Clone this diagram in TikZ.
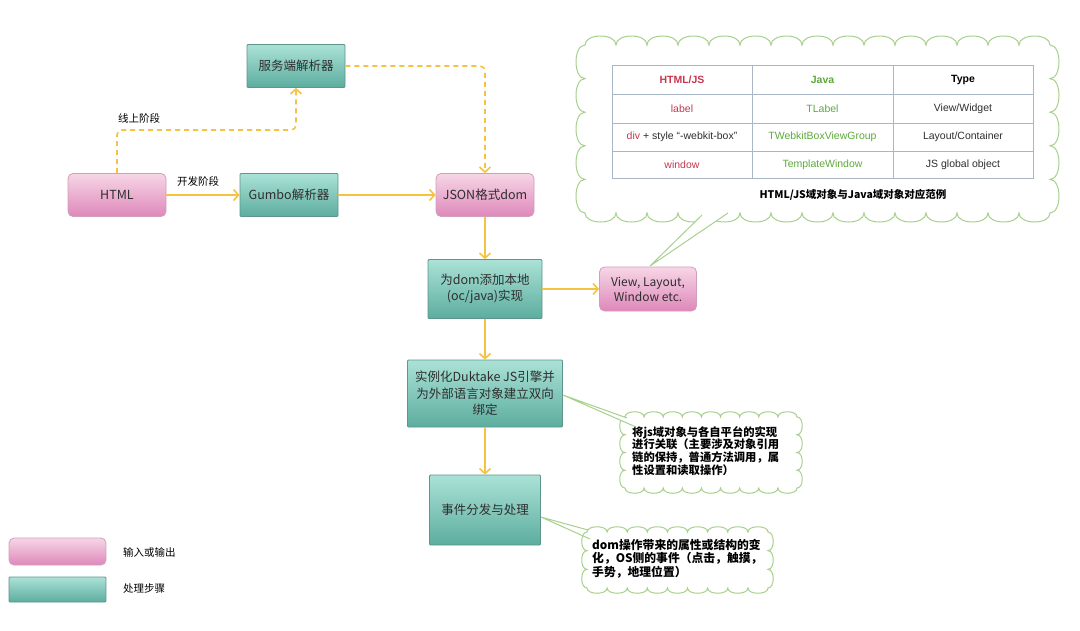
\documentclass[tikz,border=0pt]{standalone}
\usepackage{fontspec}
\setmainfont{Noto Sans CJK SC}
\newfontfamily\tabfont{Liberation Sans}
\usetikzlibrary{arrows.meta}
\definecolor{pinkT}{HTML}{F7D6E6}
\definecolor{pinkB}{HTML}{DE88BA}
\definecolor{pinkD}{HTML}{CFA0BC}
\definecolor{tealT}{HTML}{ABE2D7}
\definecolor{tealB}{HTML}{5CAD9E}
\definecolor{tealD}{HTML}{5E968B}
\definecolor{flowc}{HTML}{F5C242}
\definecolor{cloudc}{HTML}{A8D08D}
\definecolor{txt}{HTML}{2E2E2E}
\definecolor{jsred}{HTML}{C8374E}
\definecolor{jgreen}{HTML}{5DAA3B}
\definecolor{gridc}{HTML}{A9B6C6}

\newcommand\scallop[7]{%
 \pgfmathsetmacro\scw{((#3)-(#1))/#5}%
 \pgfmathsetmacro\sch{((#2)-(#4))/#6}%
 \filldraw[cloudline] (#1,#2)
  \foreach \i in {1,...,#5}{ .. controls +(0,#7) and +(0,#7) .. ++(\scw,0)}
  \foreach \i in {1,...,#6}{ .. controls +(#7,0) and +(#7,0) .. ++(0,-\sch)}
  \foreach \i in {1,...,#5}{ .. controls +(0,-#7) and +(0,-#7) .. ++(-\scw,0)}
  \foreach \i in {1,...,#6}{ .. controls +(-#7,0) and +(-#7,0) .. ++(0,\sch)}
  -- cycle;
}

\begin{document}
\begin{tikzpicture}[x=1pt,y=1pt,
  pinkbox/.style={draw=pinkD, line width=0.8pt, rounded corners=5pt, top color=pinkT, bottom color=pinkB,
     minimum width=98pt, minimum height=43pt, inner sep=0pt, text=txt, align=center,
     font=\fontsize{12.5}{16}\selectfont},
  tealbox/.style={draw=tealD, line width=0.8pt, rounded corners=1pt, top color=tealT, bottom color=tealB,
     minimum width=98pt, minimum height=43pt, inner sep=0pt, text=txt, align=center,
     font=\fontsize{12.5}{16.5}\selectfont},
  flowline/.style={draw=flowc, line width=1.6pt, -{Straight Barb[length=5pt,width=11pt]}},
  dashline/.style={flowline, dash pattern=on 5pt off 4pt, rounded corners=5pt},
  lbl/.style={font=\fontsize{10.5}{12}\selectfont, text=black, inner sep=0pt},
  cloudline/.style={draw=cloudc, line width=1pt, fill=white},
  tailline/.style={draw=cloudc, line width=1pt},
  cell/.style={font=\tabfont\fontsize{10.5}{12}\selectfont, text=txt, inner sep=0pt},
  headcell/.style={cell, font=\tabfont\bfseries\fontsize{10.5}{12}\selectfont},
  cloudtext/.style={font=\bfseries\fontsize{11.3}{12.7}\selectfont, text=black, align=left, inner sep=0pt, anchor=north west}
]
\useasboundingbox (0,0) rectangle (1080,-630);
\fill[white] (0,0) rectangle (1080,-630);

% ---------- clouds ----------
\scallop{585}{-45}{1050}{-213}{15}{5}{12}
\fill[white] (650,-266) -- (702,-215) -- (704,-207) -- (726,-207) -- (728,-213) -- cycle;
\coordinate (t1) at (650,-266);
\coordinate (t1a) at (702,-215);
\coordinate (t1b) at (728,-213);
\draw[tailline] (t1a) -- (t1) -- (t1b);

\scallop{625}{-417}{797}{-488}{9}{4}{7}
\fill[white] (563,-395) -- (627,-418) -- (632,-420) -- (636,-427) -- cycle;
\coordinate (t2) at (563,-395);
\coordinate (t2a) at (627,-418);
\coordinate (t2b) at (636,-427);

\scallop{587}{-532}{768}{-588}{9}{3}{7}
\coordinate (t3) at (542,-517);
\coordinate (t3a) at (588,-530);
\coordinate (t3b) at (590,-539);

% ---------- table ----------
\draw[gridc, line width=0.8pt] (612,-65) rectangle (1033,-178);
\foreach \yy in {-94,-123,-151} \draw[gridc, line width=0.8pt] (612,\yy) -- (1033,\yy);
\foreach \xx in {752,893} \draw[gridc, line width=0.8pt] (\xx,-65) -- (\xx,-178);

\node[headcell, text=jsred] (h1) at (682,-79.5) {HTML/JS};
\node[headcell, text=jgreen] (h2) at (822.5,-79.5) {Java};
\node[headcell, text=black] (h3) at (963,-79.5) {Type};
\node[cell, text=jsred] (r1a) at (682,-108.5) {label};
\node[cell, text=jgreen] (r1b) at (822.5,-108.5) {TLabel};
\node[cell] (r1c) at (963,-108.5) {View/Widget};
\node[cell] (r2a) at (682,-137) {\textcolor{jsred}{div} + style “-webkit-box”};
\node[cell, text=jgreen] (r2b) at (822.5,-137) {TWebkitBoxViewGroup};
\node[cell] (r2c) at (963,-137) {Layout/Container};
\node[cell, text=jsred] (r3a) at (682,-164.5) {window};
\node[cell, text=jgreen] (r3b) at (822.5,-164.5) {TemplateWindow};
\node[cell] (r3c) at (963,-164.5) {JS global object};
\node[font=\bfseries\fontsize{10.5}{12}\selectfont, inner sep=0pt] (cap) at (853,-195) {HTML/JS域对象与Java域对象对应范例};

% ---------- cloud texts ----------
\node[cloudtext] (c2) at (632,-426) {将js域对象与各自平台的实现\\进行关联（主要涉及对象引用\\链的保持，普通方法调用，属\\性设置和读取操作）};
\node[cloudtext, font=\bfseries\fontsize{11.8}{13.5}\selectfont] (c3) at (592,-539) {dom操作带来的属性或结构的变\\化，OS侧的事件（点击，触摸，\\手势，地理位置）};

% ---------- nodes ----------
\node[pinkbox] (html) at (117,-195) {HTML};
\node[tealbox] (gumbo) at (289,-195) {Gumbo解析器};
\node[tealbox] (server) at (296,-66) {服务端解析器};
\node[pinkbox] (json) at (485,-195) {JSON格式dom};
\node[tealbox, minimum width=114pt, minimum height=59pt] (native) at (485,-289) {为dom添加本地\\(oc/java)实现};
\node[pinkbox, minimum width=97pt, minimum height=44pt, font=\fontsize{12}{15}\selectfont] (view) at (648,-289) {View, Layout,\\Window etc.};
\node[tealbox, minimum width=155pt, minimum height=67pt] (engine) at (485,-393.5) {实例化Duktake JS引擎并\\为外部语言对象建立双向\\绑定};
\node[tealbox, minimum width=111pt, minimum height=70pt] (event) at (485,-510) {事件分发与处理};

% tails from boxes to clouds
\draw[tailline] (t2a) -- (engine.east |- t2) -- (t2b);
\draw[tailline] (t3a) -- (event.east |- t3) -- (t3b);

% ---------- connectors ----------
\coordinate (d1) at (117,-130);
\coordinate (d2) at (296,-130);
\coordinate (d3) at (485,-66);
\draw[flowline] (html) -- (gumbo);
\draw[flowline] (gumbo) -- (json);
\draw[dashline] (html.north) -- (d1) -- (d2) -- (server.south);
\draw[dashline] (server.east) -- (d3) -- (json.north);
\draw[flowline] (json) -- (native);
\draw[flowline] (native) -- (view);
\draw[flowline] (native) -- (engine);
\draw[flowline] (engine) -- (event);

\node[lbl] (dev) at (198,-181) {开发阶段};
\node[lbl] (online) at (139,-118) {线上阶段};

% ---------- legend ----------
\node[pinkbox, minimum width=97pt, minimum height=27pt] (leg1) at (57.5,-551.5) {};
\node[tealbox, minimum width=97pt, minimum height=25pt] (leg2) at (57.5,-589.5) {};
\node[lbl, anchor=west] (leg1t) at (123,-552) {输入或输出};
\node[lbl, anchor=west] (leg2t) at (123,-589) {处理步骤};
\end{tikzpicture}
\end{document}
